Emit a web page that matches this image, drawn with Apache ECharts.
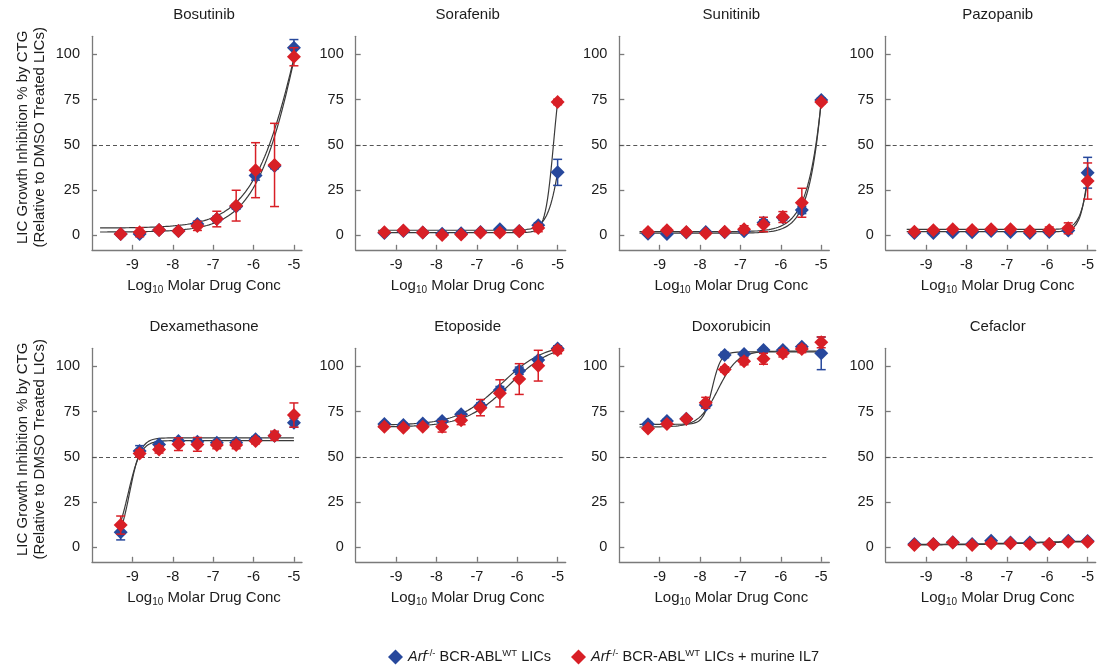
<!DOCTYPE html>
<html>
<head>
<meta charset="utf-8">
<script src="https://cdn.jsdelivr.net/npm/echarts@6/dist/echarts.min.js"></script>
<style>
  html, body { margin: 0; padding: 0; background: #ffffff; }
  #chart { width: 1106px; height: 665px; }
</style>
</head>
<body>
<div id="chart"></div>
<script>
// Dose-response of Arf-/- BCR-ABL LICs to eight drugs, with and without murine IL7.

const logConc = [-9.29, -8.82, -8.34, -7.86, -7.39, -6.91, -6.43, -5.95, -5.48, -5.0];
const xTicks = [-9, -8, -7, -6, -5];
const yTicks = [0, 25, 50, 75, 100];
const drugs = ['Bosutinib', 'Sorafenib', 'Sunitinib', 'Pazopanib',
               'Dexamethasone', 'Etoposide', 'Doxorubicin', 'Cefaclor'];

// Mean % growth inhibition (WT = LICs alone, IL7 = LICs + murine IL7) and SEM
const bosutinibWT     = [0.7, 0.7, 3.0, 2.4, 6.3, 9.0, 16.0, 33.0, 38.3, 103.7];
const bosutinibWTsem  = [1, 1, 1, 1, 1.5, 1.5, 1.5, 2.5, 1.5, 4.5];
const bosutinibIL7    = [0.7, 1.7, 3.0, 2.4, 5.2, 9.0, 16.4, 36.0, 38.9, 98.7];
const bosutinibIL7sem = [1, 2.5, 1, 1, 2.5, 4.3, 8.5, 15.2, 23, 5];

const sorafenibWT     = [1.3, 2.4, 1.5, 0.9, 1.1, 1.8, 3.3, 2.4, 5.5, 34.8];
const sorafenibWTsem  = [0.5, 0.5, 0.5, 0.5, 0.5, 0.5, 0.8, 0.5, 1.5, 7.2];
const sorafenibIL7    = [1.7, 2.6, 1.5, 0.2, 0.4, 1.5, 1.5, 2.2, 4.0, 73.7];
const sorafenibIL7sem = [0.8, 1, 0.8, 1, 1, 1, 1, 1.2, 2, 1.5];

const sunitinibWT     = [0.9, 0.7, 1.5, 1.8, 1.7, 2.2, 7.0, 9.8, 14.0, 74.8];
const sunitinibWTsem  = [0.5, 0.5, 0.5, 0.5, 0.5, 0.8, 1.5, 1.5, 2, 1];
const sunitinibIL7    = [1.8, 2.8, 1.8, 1.1, 2.0, 3.3, 6.0, 10.1, 18.0, 73.7];
const sunitinibIL7sem = [1, 1, 1.2, 1, 1, 2, 4, 3, 8, 1];

const pazopanibWT     = [1.3, 1.3, 1.7, 1.7, 2.4, 1.8, 1.3, 1.8, 2.6, 34.6];
const pazopanibWTsem  = [0.5, 0.5, 0.5, 0.5, 0.5, 0.5, 0.5, 0.5, 0.8, 8.5];
const pazopanibIL7    = [2.0, 2.8, 3.3, 2.9, 3.3, 3.3, 2.2, 2.8, 3.9, 30.0];
const pazopanibIL7sem = [0.8, 1, 1, 1, 1, 1, 1, 1.8, 3, 10];

const dexamethasoneWT     = [8.3, 53.2, 56.9, 58.7, 58.4, 57.8, 57.8, 59.7, 61.7, 68.9];
const dexamethasoneWTsem  = [4.2, 3, 1.5, 1.5, 1.5, 1.2, 1.5, 1.5, 1.5, 2.5];
const dexamethasoneIL7    = [12.3, 51.9, 54.1, 57.0, 56.9, 56.5, 56.5, 58.7, 61.7, 73.1];
const dexamethasoneIL7sem = [5, 2, 2, 3.5, 3.8, 2, 2, 1.5, 2.5, 6.7];

const etoposideWT     = [68.1, 67.6, 68.5, 69.8, 73.5, 78.3, 86.9, 97.6, 103.5, 109.9];
const etoposideWTsem  = [1, 1, 1, 1, 1.2, 1.5, 2, 2, 1.5, 1.5];
const etoposideIL7    = [66.7, 66.1, 66.7, 66.7, 70.3, 77.2, 85.1, 93.0, 100.4, 109.0];
const etoposideIL7sem = [1, 1, 1, 3, 2.5, 4.5, 7.5, 8.5, 8.5, 2];

const doxorubicinWT     = [68.0, 69.8, 71.1, 78.6, 106.3, 106.8, 109.0, 109.0, 110.9, 107.2];
const doxorubicinWTsem  = [1, 1, 1, 1.5, 1.5, 1, 1, 1, 1, 9];
const doxorubicinIL7    = [65.7, 68.1, 70.9, 79.9, 98.3, 102.9, 104.2, 107.2, 109.6, 113.3];
const doxorubicinIL7sem = [1, 1, 1, 3, 1.5, 2, 3, 2, 2, 3];

const cefaclorWT     = [1.8, 1.8, 2.8, 1.8, 3.7, 2.6, 2.6, 1.8, 3.7, 3.5];
const cefaclorWTsem  = [0.5, 0.5, 0.5, 0.5, 0.5, 0.5, 0.5, 0.5, 0.5, 0.5];
const cefaclorIL7    = [1.3, 1.7, 2.6, 1.3, 2.2, 2.2, 1.8, 1.8, 3.1, 3.1];
const cefaclorIL7sem = [0.5, 0.5, 0.5, 0.5, 0.8, 0.5, 1.2, 0.5, 0.5, 0.5];

// Four-parameter logistic fits: [bottom, top, logEC50, hill slope]
const bosutinibFitWT      = [1.8, 251.8, -4.717, 0.75];
const bosutinibFitIL7     = [4.0, 254.0, -4.686, 0.70];
const sorafenibFitWT      = [2.8, 99.8, -4.884, 2.65];
const sorafenibFitIL7     = [1.5, 101.5, -5.098, 4.22];
const sunitinibFitWT      = [1.2, 1000, -4.289, 1.55];
const sunitinibFitIL7     = [2.0, 1000, -4.207, 1.40];
const pazopanibFitWT      = [2.0, 100, -4.908, 3.65];
const pazopanibFitIL7     = [3.3, 100, -4.874, 3.27];
const dexamethasoneFitWT  = [0, 60.5, -9.068, 3.17];
const dexamethasoneFitIL7 = [0, 59.0, -9.108, 2.79];
const etoposideFitWT      = [67.5, 113, -6.40, 0.8];
const etoposideFitIL7     = [66.5, 113, -6.20, 0.8];
const doxorubicinFitWT    = [68.0, 108.0, -7.70, 4.0];
const doxorubicinFitIL7   = [66.5, 108.5, -7.55, 1.8];
const cefaclorFitWT       = [1.6, 3.6, -6.5, 0.6];
const cefaclorFitIL7      = [1.3, 3.3, -6.5, 0.6];

// log10 concentration where each fitted curve begins (curves end at -5)
const curveStart = [-9.8, -9.45, -9.5, -9.48, -9.3, -9.45, -9.5, -9.45];

const panelData = [
  [bosutinibWT, bosutinibWTsem, bosutinibIL7, bosutinibIL7sem, bosutinibFitWT, bosutinibFitIL7],
  [sorafenibWT, sorafenibWTsem, sorafenibIL7, sorafenibIL7sem, sorafenibFitWT, sorafenibFitIL7],
  [sunitinibWT, sunitinibWTsem, sunitinibIL7, sunitinibIL7sem, sunitinibFitWT, sunitinibFitIL7],
  [pazopanibWT, pazopanibWTsem, pazopanibIL7, pazopanibIL7sem, pazopanibFitWT, pazopanibFitIL7],
  [dexamethasoneWT, dexamethasoneWTsem, dexamethasoneIL7, dexamethasoneIL7sem, dexamethasoneFitWT, dexamethasoneFitIL7],
  [etoposideWT, etoposideWTsem, etoposideIL7, etoposideIL7sem, etoposideFitWT, etoposideFitIL7],
  [doxorubicinWT, doxorubicinWTsem, doxorubicinIL7, doxorubicinIL7sem, doxorubicinFitWT, doxorubicinFitIL7],
  [cefaclorWT, cefaclorWTsem, cefaclorIL7, cefaclorIL7sem, cefaclorFitWT, cefaclorFitIL7]
];

// ---- styling / layout ----
const FONT = '"Liberation Sans", Arial, Helvetica, sans-serif';
const TEXT = '#1c1c1c';
const AXIS = '#7a7a7a';
const BLUE = '#27489c';
const RED = '#d81f26';
const CURVE = '#3a3a3a';

const colLeft = [92, 355.7, 619.3, 885.7];
const rowTop = [36.3, 348.3];
const gridW = 210;
const gridH = 213.5;

function logistic(p, x) {
  return p[0] + (p[1] - p[0]) / (1 + Math.pow(10, (p[2] - x) * p[3]));
}
function fitCurve(p, start) {
  const pts = [];
  const n = 160;
  for (let k = 0; k <= n; k++) {
    const x = start + (-5 - start) * k / n;
    pts.push([x, logistic(p, x)]);
  }
  return pts;
}
function renderErr(params, api) {
  const x = api.value(0), m = api.value(1), e = api.value(2);
  const top = api.coord([x, m + e]);
  const bot = api.coord([x, m - e]);
  const hw = 4.5;
  const style = { stroke: api.visual('color'), lineWidth: 1.5 };
  return {
    type: 'group',
    children: [
      { type: 'line', shape: { x1: top[0], y1: top[1], x2: bot[0], y2: bot[1] }, style },
      { type: 'line', shape: { x1: top[0] - hw, y1: top[1], x2: top[0] + hw, y2: top[1] }, style },
      { type: 'line', shape: { x1: bot[0] - hw, y1: bot[1], x2: bot[0] + hw, y2: bot[1] }, style }
    ]
  };
}

const grids = [], xAxes = [], yAxes = [], series = [], graphics = [];

drugs.forEach((name, i) => {
  const col = i % 4, row = Math.floor(i / 4);
  const left = colLeft[col], top = rowTop[row];
  const [wt, wtSem, il7, il7Sem, fitWT, fitIL7] = panelData[i];

  grids.push({ left, top, width: gridW, height: gridH });
  xAxes.push({
    gridIndex: i, type: 'value', min: -10, max: -4.8,
    axisLine: { show: true, onZero: false, lineStyle: { color: AXIS, width: 1.3 } },
    axisTick: { show: true, inside: true, length: 5, customValues: xTicks, lineStyle: { color: AXIS, width: 1.3 } },
    axisLabel: { customValues: xTicks, margin: 8, color: TEXT, fontSize: 14.5, fontFamily: FONT },
    splitLine: { show: false }
  });
  yAxes.push({
    gridIndex: i, type: 'value', min: -8, max: 110,
    axisLine: { show: true, lineStyle: { color: AXIS, width: 1.3 } },
    axisTick: { show: true, inside: true, length: 5, customValues: yTicks, lineStyle: { color: AXIS, width: 1.3 } },
    axisLabel: { customValues: yTicks, margin: 12, color: TEXT, fontSize: 14.5, fontFamily: FONT },
    splitLine: { show: false }
  });

  const lineBase = {
    type: 'line', xAxisIndex: i, yAxisIndex: i, showSymbol: false, silent: true,
    lineStyle: { color: CURVE, width: 1.2 }, z: 2
  };
  series.push(Object.assign({}, lineBase, {
    data: fitCurve(fitWT, curveStart[i]),
    markLine: {
      silent: true, symbol: 'none', label: { show: false },
      lineStyle: { color: '#555555', type: [4, 3], width: 1 },
      data: [{ yAxis: 50 }]
    }
  }));
  series.push(Object.assign({}, lineBase, { data: fitCurve(fitIL7, curveStart[i]) }));

  series.push({
    type: 'custom', xAxisIndex: i, yAxisIndex: i, renderItem: renderErr, silent: true,
    itemStyle: { color: BLUE }, z: 3,
    data: logConc.map((x, k) => [x, wt[k], wtSem[k]])
  });
  series.push({
    type: 'scatter', name: 'wt', xAxisIndex: i, yAxisIndex: i, symbol: 'diamond', symbolSize: 14,
    clip: false, itemStyle: { color: BLUE, opacity: 1 }, z: 4,
    data: logConc.map((x, k) => [x, wt[k]])
  });
  series.push({
    type: 'custom', xAxisIndex: i, yAxisIndex: i, renderItem: renderErr, silent: true,
    itemStyle: { color: RED }, z: 5,
    data: logConc.map((x, k) => [x, il7[k], il7Sem[k]])
  });
  series.push({
    type: 'scatter', name: 'il7', xAxisIndex: i, yAxisIndex: i, symbol: 'diamond', symbolSize: 14,
    clip: false, itemStyle: { color: RED, opacity: 1 }, z: 6,
    data: logConc.map((x, k) => [x, il7[k]])
  });

  // panel title
  graphics.push({
    type: 'text', x: left + 112, y: top - 21, silent: true,
    style: { text: name, fontSize: 15, fontFamily: FONT, fill: TEXT, align: 'center', verticalAlign: 'middle' }
  });
  // x-axis name with subscript
  graphics.push({
    type: 'text', x: left + 112, y: top + gridH + 36.5, silent: true,
    style: {
      text: '{t|Log}{s|10}{t| Molar Drug Conc}', align: 'center', verticalAlign: 'middle',
      fontSize: 15, fontFamily: FONT, fill: TEXT,
      rich: {
        t: { fontSize: 15, fontFamily: FONT, fill: TEXT, lineHeight: 18, verticalAlign: 'middle' },
        s: { fontSize: 10, fontFamily: FONT, fill: TEXT, lineHeight: 10, verticalAlign: 'bottom' }
      }
    }
  });
});

// y-axis names, one pair per row
rowTop.forEach(top => {
  const cy = top + 101;
  [['LIC Growth Inhibition % by CTG', 23], ['(Relative to DMSO Treated LICs)', 40]].forEach(([txt, x]) => {
    graphics.push({
      type: 'text', x, y: cy, rotation: Math.PI / 2, silent: true,
      style: { text: txt, fontSize: 15, fontFamily: FONT, fill: TEXT, align: 'center', verticalAlign: 'middle' }
    });
  });
});

const legendRich = {
  n: { fontSize: 14.5, fontFamily: FONT, color: TEXT, lineHeight: 18, verticalAlign: 'middle' },
  i: { fontSize: 14.5, fontFamily: FONT, color: TEXT, fontStyle: 'italic', lineHeight: 18, verticalAlign: 'middle' },
  sup: { fontSize: 9.5, fontFamily: FONT, color: TEXT, lineHeight: 10, verticalAlign: 'top' }
};

const chart = echarts.init(document.getElementById('chart'), null, { renderer: 'canvas' });
chart.setOption({
  animation: false,
  backgroundColor: '#ffffff',
  grid: grids,
  xAxis: xAxes,
  yAxis: yAxes,
  series,
  graphic: graphics,
  legend: {
    data: ['wt', 'il7'],
    left: 383, top: 643,
    icon: 'diamond', itemWidth: 15, itemHeight: 15, itemGap: 20,
    selectedMode: false,
    formatter: n => n === 'wt'
      ? '{i|Arf}{sup|-/-}{n| BCR-ABL}{sup|WT}{n| LICs}'
      : '{i|Arf}{sup|-/-}{n| BCR-ABL}{sup|WT}{n| LICs + murine IL7}',
    textStyle: { fontSize: 14.5, fontFamily: FONT, color: TEXT, rich: legendRich }
  }
});
</script>
</body>
</html>
